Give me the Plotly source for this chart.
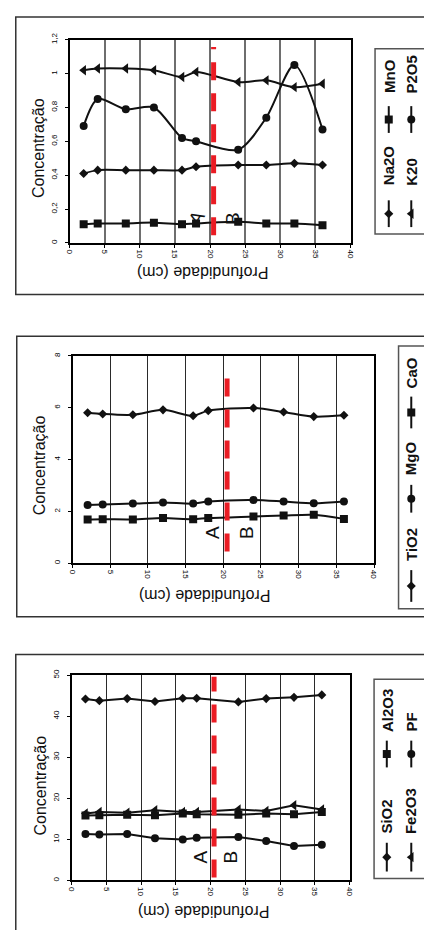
import plotly.graph_objects as go

W, H = 428, 931

# ---------------- data ----------------
depth = [2, 4, 8, 12, 16, 18, 24, 28, 32, 36]
depth_ticks = [0, 5, 10, 15, 20, 25, 30, 35, 40]

# panel 1
na2o = [0.41, 0.43, 0.43, 0.43, 0.43, 0.45, 0.46, 0.46, 0.47, 0.46]
mno = [0.11, 0.115, 0.115, 0.12, 0.11, 0.115, 0.125, 0.115, 0.115, 0.105]
k2o = [1.02, 1.03, 1.03, 1.02, 0.98, 1.01, 0.95, 0.96, 0.92, 0.94]
p2o5 = [0.69, 0.85, 0.79, 0.80, 0.62, 0.60, 0.55, 0.74, 1.05, 0.67]
p1_tickvals = [0, 0.2, 0.4, 0.6, 0.8, 1.0, 1.2]
p1_ticktext = ["0", "0,2", "0,4", "0,6", "0,8", "1", "1,2"]

# panel 2
tio2 = [5.81, 5.76, 5.73, 5.92, 5.69, 5.89, 5.99, 5.84, 5.66, 5.71]
mgo = [2.25, 2.27, 2.30, 2.34, 2.30, 2.38, 2.44, 2.38, 2.31, 2.38]
cao = [1.69, 1.70, 1.69, 1.74, 1.70, 1.74, 1.80, 1.84, 1.87, 1.71]
p2_tickvals = [0, 2, 4, 6, 8]
p2_ticktext = ["0", "2", "4", "6", "8"]

# panel 3
sio2 = [44.2, 43.8, 44.3, 43.6, 44.4, 44.4, 43.5, 44.3, 44.6, 45.2]
fe2o3 = [16.3, 16.7, 16.5, 17.1, 16.7, 16.7, 17.3, 16.9, 18.3, 17.3]
al2o3 = [15.8, 15.9, 16.0, 15.9, 16.3, 16.1, 16.0, 16.3, 16.1, 16.7]
pf = [11.3, 11.2, 11.3, 10.3, 10.0, 10.4, 10.6, 9.6, 8.4, 8.7]
p3_tickvals = [0, 10, 20, 30, 40, 50]
p3_ticktext = ["0", "10", "20", "30", "40", "50"]

# A/B boundary (depth) and vertical extent of the red dashed marker per panel
boundary_depth = 20.5
boundary_span = [[0.045, 1.157], [0.45, 7.13], [0.73, 49.6]]

# ---------------- styling ----------------
FONT = "Arial, Liberation Sans, sans-serif"
LINE_C = "#111111"
RED = "#ea1c24"
sym = {"diamond": ("diamond", 7), "square": ("square", 8),
       "circle": ("circle", 8), "triangle": ("triangle-left", 9)}

# panel plot areas in pixels: (x0, x1, ytop, ybottom)
areas = [(66, 353, 33, 238), (69, 377, 352, 561), (68, 352, 674, 881)]
grid_colors = ["#6e6e6e", "#2a2a2a", "#2a2a2a"]
grid_widths = [1.5, 1, 1]

series = [
    [("Na2O", na2o, "diamond"), ("MnO", mno, "square"),
     ("K20", k2o, "triangle"), ("P2O5", p2o5, "circle")],
    [("TiO2", tio2, "diamond"), ("MgO", mgo, "circle"), ("CaO", cao, "square")],
    [("SiO2", sio2, "diamond"), ("Al2O3", al2o3, "square"),
     ("Fe2O3", fe2o3, "triangle"), ("PF", pf, "circle")],
]
yticks = [(p1_tickvals, p1_ticktext, 1.2), (p2_tickvals, p2_ticktext, 8),
          (p3_tickvals, p3_ticktext, 50)]
shapes_line = ["spline", "spline", "linear"]

fig = go.Figure()

for i, grp in enumerate(series):
    ax = "" if i == 0 else str(i + 1)
    for name, vals, mk in grp:
        s, sz = sym[mk]
        fig.add_trace(go.Scatter(
            x=depth, y=vals, mode="lines+markers", name=name,
            xaxis="x" + ax, yaxis="y" + ax, showlegend=False,
            line=dict(color=LINE_C, width=2, shape=shapes_line[i], smoothing=0.8),
            marker=dict(symbol=s, size=sz, color=LINE_C, line=dict(width=0)),
        ))
    fig.add_trace(go.Scatter(
        x=[boundary_depth, boundary_depth], y=boundary_span[i], mode="lines",
        xaxis="x" + ax, yaxis="y" + ax, showlegend=False,
        line=dict(color=RED, width=5, dash="18px,13px"),
    ))

layout = dict(
    width=W, height=H, margin=dict(l=0, r=0, t=0, b=0),
    paper_bgcolor="white", plot_bgcolor="rgba(0,0,0,0)",
    font=dict(family=FONT, color="black"),
    showlegend=False,
)

for i, (x0, x1, yt, yb) in enumerate(areas):
    k = "" if i == 0 else str(i + 1)
    tv, tt, ymax = yticks[i]
    layout["xaxis" + k] = dict(
        domain=[x0 / W, x1 / W], range=[0, 40], anchor="y" + k,
        tickvals=depth_ticks, ticktext=[str(t) for t in depth_ticks],
        tickangle=90, tickfont=dict(size=8, family=FONT),
        ticks="outside", ticklen=3, tickcolor="black",
        showline=True, linecolor="black", linewidth=2, mirror=True,
        showgrid=True, gridcolor=grid_colors[i], gridwidth=grid_widths[i],
        zeroline=False, fixedrange=True,
    )
    layout["yaxis" + k] = dict(
        domain=[1 - yb / H, 1 - yt / H], range=[0, ymax], anchor="x" + k,
        tickvals=tv, ticktext=tt, tickangle=-90,
        tickfont=dict(size=8, family=FONT),
        ticks="outside", ticklen=3, tickcolor="black", ticklabelstandoff=4,
        showline=True, linecolor="black", linewidth=2, mirror=True,
        showgrid=False, zeroline=False, fixedrange=True,
    )

# pixel overlay axis for frames and legend keys
layout["xaxis4"] = dict(domain=[0, 1], range=[0, W], anchor="y4", visible=False,
                        fixedrange=True)
layout["yaxis4"] = dict(domain=[0, 1], range=[H, 0], anchor="x4", visible=False,
                        fixedrange=True)

shapes = []
annotations = []

# black line at depth 20 in panel 1 (darker than the other grid lines)
shapes.append(dict(type="line", xref="x", yref="y", x0=20, x1=20, y0=0, y1=1.2,
                   layer="below", line=dict(color="#111111", width=1)))

# outer frames and legend boxes (pixels)
frames = [(11, 445, 10, 290), (12, 445, 332, 615), (11, 445, 653, 950)]
leg_boxes = [(378, 445, 42, 229), (402, 445, 342, 607), (377, 445, 678, 879)]
for (a, b, c, d) in frames:
    shapes.append(dict(type="rect", xref="x4", yref="y4", x0=a, x1=b, y0=c, y1=d,
                       line=dict(color="#333333", width=1.5)))
for (a, b, c, d) in leg_boxes:
    shapes.append(dict(type="rect", xref="x4", yref="y4", x0=a, x1=b, y0=c, y1=d,
                       line=dict(color="#555555", width=1.5)))

# axis titles (pixels)
ytitle_pos = [(35, 142), (35, 462), (36, 785)]
xtitle_pos = [(202, 268), (204, 593), (203, 913)]
for (px, py) in ytitle_pos:
    annotations.append(dict(xref="x4", yref="y4", x=px, y=py, text="Concentração",
                            textangle=-90, showarrow=False,
                            font=dict(size=16, family=FONT, color="#111111"),
                            xanchor="center", yanchor="middle"))
for (px, py) in xtitle_pos:
    annotations.append(dict(xref="x4", yref="y4", x=px, y=py, text="Profundidade (cm)",
                            textangle=180, showarrow=False,
                            font=dict(size=16, family=FONT, color="#111111"),
                            xanchor="center", yanchor="middle"))

# A / B labels (data coords of each panel)
ab = [[(18.0, 0.146, -60), (23.1, 0.146, -90)],
      [(18.6, 1.19, -90), (23.1, 1.19, -90)],
      [(18.5, 5.6, -90), (22.8, 5.6, -90)]]
for i, pair in enumerate(ab):
    k = "" if i == 0 else str(i + 1)
    for (lx, ly, ang), txt in zip(pair, ["A", "B"]):
        annotations.append(dict(xref="x" + k, yref="y" + k, x=lx, y=ly, text=txt,
                                textangle=ang, showarrow=False,
                                font=dict(size=19, family=FONT, color="#111111"),
                                xanchor="center", yanchor="middle"))

# legend keys: (panel, series index, column x, line bottom y, line top y, text bottom y)
leg_layout = [
    (0, 0, 392, 222, 195, 182), (0, 1, 392, 127, 100, 89),
    (0, 2, 415, 222, 195, 182), (0, 3, 415, 127, 100, 89),
    (1, 0, 415, 600, 568, 561), (1, 1, 415, 510, 482, 474), (1, 2, 415, 425, 393, 387),
    (2, 0, 390, 872, 843, 836), (2, 1, 390, 767, 740, 733),
    (2, 2, 415, 872, 843, 836), (2, 3, 415, 767, 740, 733),
]
for (p, si, cx, yb, yt, ty) in leg_layout:
    name, _, mk = series[p][si]
    s, sz = sym[mk]
    fig.add_trace(go.Scatter(
        x=[cx, cx], y=[yb, yt], mode="lines", xaxis="x4", yaxis="y4",
        showlegend=False, line=dict(color=LINE_C, width=2)))
    fig.add_trace(go.Scatter(
        x=[cx], y=[(yb + yt) / 2], mode="markers", xaxis="x4", yaxis="y4",
        showlegend=False, marker=dict(symbol=s, size=sz, color=LINE_C)))
    annotations.append(dict(xref="x4", yref="y4", x=cx, y=ty, text="<b>%s</b>" % name,
                            textangle=-90, showarrow=False,
                            font=dict(size=15, family=FONT, color="#111111"),
                            xanchor="center", yanchor="bottom"))

layout["shapes"] = shapes
layout["annotations"] = annotations
fig.update_layout(**layout)

fig.write_html("out.html", config={"displayModeBar": False})
